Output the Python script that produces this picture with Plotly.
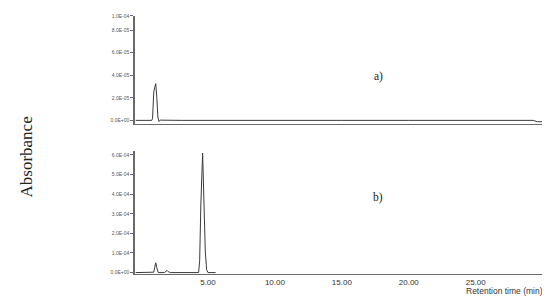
import plotly.graph_objects as go

# chromatogram a) (time in min, absorbance)
time_a = [-0.4, 0.5, 0.80, 0.86, 0.90, 0.95, 1.02, 1.10, 1.18, 1.26, 1.34, 1.45, 3.0, 8.0, 10.5,
          11.5, 15.0, 20.0, 25.0, 29.3, 29.6, 29.9, 30.2]
abs_a = [0.0, 0.0, 0.0, 1.5e-6, 2.3e-5, 2.5e-5, 2.9e-5, 3.25e-5, 2.0e-5, 3e-6, -1e-6, 2e-7, 0.0,
         -2e-7, 3e-7, 0.0, 0.0, 0.0, 2e-7, 0.0, -1.2e-6, -1.4e-6, -1.2e-6]

# chromatogram b)
time_b = [-0.4, 0.8, 0.95, 1.02, 1.10, 1.18, 1.28, 1.75, 1.85, 1.95, 2.05, 2.2, 4.3, 4.38, 4.47,
          4.60, 4.70, 4.80, 4.90, 5.0, 5.57]
abs_b = [0.0, 0.0, 2e-6, 2.5e-5, 5.0e-5, 2.5e-5, 0.0, 0.0, 8e-6, 1.1e-5, 4e-6, 0.0, 0.0, 6e-5,
         3.5e-4, 6.1e-4, 3.6e-4, 1.1e-4, 1.5e-5, 0.0, 0.0]

ya_ticks = [0, 2e-5, 4e-5, 6e-5, 8e-5, 9.25e-5]
ya_text = ["0.0E+00", "2.0E-05", "4.0E-05", "6.0E-05", "8.0E-05", "1.0E-04"]
yb_ticks = [0, 1e-4, 2e-4, 3e-4, 4e-4, 5e-4, 6e-4]
yb_text = ["0.0E+00", "1.0E-04", "2.0E-04", "3.0E-04", "4.0E-04", "5.0E-04", "6.0E-04"]
x_ticks = [5, 10, 15, 20, 25]
x_text = ["5.00", "10.00", "15.00", "20.00", "25.00"]

line_col = "#3a3a3a"
axis_col = "#6a6a6a"
sans = "Liberation Sans"
serif = "Liberation Serif"

# the page body has an 8px margin, so the figure is drawn 8px in and down
OFF = 8
W, H = 550 - OFF, 301 - OFF


def px(x):
    return (x - OFF) / W


def py(y):
    return 1 - (y - OFF) / H


fig = go.Figure()
fig.add_trace(go.Scatter(x=time_a, y=abs_a, mode="lines", xaxis="x", yaxis="y",
                         line=dict(color=line_col, width=1), showlegend=False))
fig.add_trace(go.Scatter(x=time_b, y=abs_b, mode="lines", xaxis="x2", yaxis="y2",
                         line=dict(color=line_col, width=1), showlegend=False))

xdom = [px(135), px(548)]
yfont = dict(family=sans, size=5, color="#555")
common_x = dict(range=[-0.45, 30.4], domain=xdom, showgrid=False, zeroline=False,
                showline=True, linecolor=axis_col, linewidth=1.2)
common_y = dict(showgrid=False, zeroline=False, showline=True, linecolor=axis_col,
                linewidth=1.5, ticks="outside", ticklen=3, tickcolor=axis_col,
                tickfont=yfont)


def label(text, x, y, font, **kw):
    return dict(text=text, x=px(x), y=py(y), xref="paper", yref="paper",
                yanchor="middle", showarrow=False, font=font, **kw)


fig.update_layout(
    width=W, height=H,
    margin=dict(l=0, r=0, t=0, b=0),
    paper_bgcolor="white", plot_bgcolor="white",
    xaxis=dict(common_x, anchor="y", showticklabels=False),
    yaxis=dict(common_y, domain=[py(123), py(13)],
               range=[-3.6e-6, 9.25e-5], tickvals=ya_ticks, ticktext=ya_text, anchor="x"),
    xaxis2=dict(common_x, anchor="y2", tickvals=x_ticks, ticktext=x_text, ticks="",
                tickfont=dict(family=sans, size=8, color="#333")),
    yaxis2=dict(common_y, domain=[py(275), py(150)],
                range=[-9e-6, 6.2e-4], tickvals=yb_ticks, ticktext=yb_text, anchor="x2"),
    annotations=[
        label("Absorbance", 15, 156, dict(family=serif, size=17, color="#222"), textangle=-90),
        label("a)", 385, 74, dict(family=serif, size=11.5, color="#222")),
        label("b)", 385, 197, dict(family=serif, size=11.5, color="#222")),
        label("Retention time (min)", 545, 292, dict(family=sans, size=8.5, color="#333"),
              xanchor="right"),
    ],
)

fig.write_html("out.html")
